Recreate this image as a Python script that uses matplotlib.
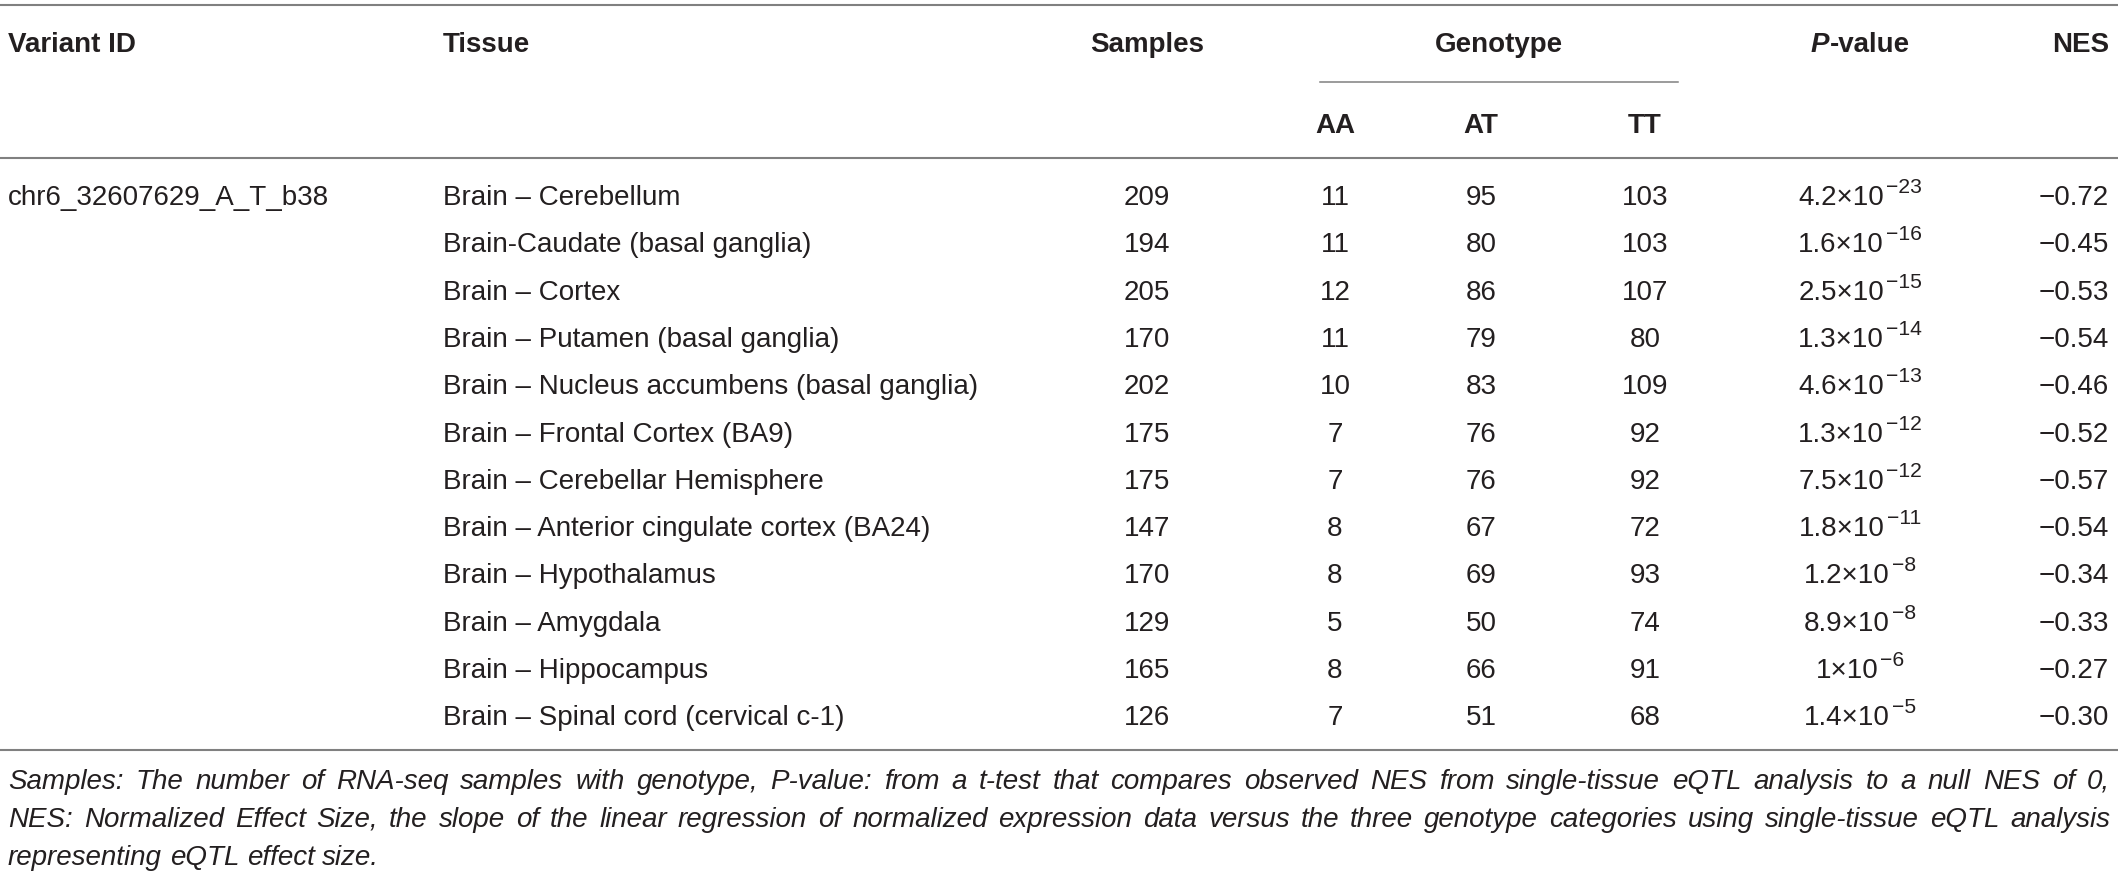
import matplotlib
matplotlib.use("Agg")
import matplotlib.pyplot as plt

# ---------------- data ----------------
variant_id = "chr6_32607629_A_T_b38"
tissues = ["Brain – Cerebellum", "Brain-Caudate (basal ganglia)", "Brain – Cortex",
           "Brain – Putamen (basal ganglia)", "Brain – Nucleus accumbens (basal ganglia)",
           "Brain – Frontal Cortex (BA9)", "Brain – Cerebellar Hemisphere",
           "Brain – Anterior cingulate cortex (BA24)", "Brain – Hypothalamus",
           "Brain – Amygdala", "Brain – Hippocampus", "Brain – Spinal cord (cervical c-1)"]
samples = [209, 194, 205, 170, 202, 175, 175, 147, 170, 129, 165, 126]
geno_aa = [11, 11, 12, 11, 10, 7, 7, 8, 8, 5, 8, 7]
geno_at = [95, 80, 86, 79, 83, 76, 76, 67, 69, 50, 66, 51]
geno_tt = [103, 103, 107, 80, 109, 92, 92, 72, 93, 74, 91, 68]
p_mant = ["4.2", "1.6", "2.5", "1.3", "4.6", "1.3", "7.5", "1.8", "1.2", "8.9", "1", "1.4"]
p_exp = [-23, -16, -15, -14, -13, -12, -12, -11, -8, -8, -6, -5]
nes = [-0.72, -0.45, -0.53, -0.54, -0.46, -0.52, -0.57, -0.54, -0.34, -0.33, -0.27, -0.30]
headers = ["Variant ID", "Tissue", "Samples", "Genotype", "NES"]
geno_labels = ["AA", "AT", "TT"]
footnote = [
    "Samples: The number of RNA-seq samples with genotype, P-value: from a t-test that compares observed NES from single-tissue eQTL analysis to a null NES of 0,",
    "NES: Normalized Effect Size, the slope of the linear regression of normalized expression data versus the three genotype categories using single-tissue eQTL analysis",
    "representing eQTL effect size.",
]

# ---------------- style ----------------
plt.rcParams['font.family'] = ['Liberation Sans', 'DejaVu Sans']

W, H = 2118, 873
FS = 20
TXT = "#231f20"
LINE = "#808080"

fig = plt.figure(figsize=(W / 100, H / 100), dpi=100)
ax = fig.add_axes([0, 0, 1, 1])
ax.set_xlim(0, W)
ax.set_ylim(H, 0)
ax.axis('off')
renderer = fig.canvas.get_renderer()

def width(t):
    return t.get_window_extent(renderer).width

# column positions
x_var, x_tis, x_samp = 8, 443, 1147
x_aa, x_at, x_tt = 1335, 1481, 1645
x_geno = 1499
x_p, x_nes = 1860, 2109

# rules
ax.plot([0, W], [5, 5], color=LINE, lw=1.5)
ax.plot([1320, 1678], [82, 82], color=LINE, lw=1.1)
ax.plot([0, W], [158, 158], color=LINE, lw=1.5)
ax.plot([0, W], [750, 750], color=LINE, lw=1.5)

# headers
hy = 52
bold = dict(fontsize=FS, fontweight='bold', color=TXT, va='baseline')
ax.text(x_var, hy, headers[0], ha='left', **bold)
ax.text(x_tis, hy, headers[1], ha='left', **bold)
ax.text(x_samp, hy, headers[2], ha='center', **bold)
ax.text(x_geno, hy, headers[3], ha='center', **bold)
ax.text(x_nes, hy, headers[4], ha='right', **bold)

# P-value header: italic bold P + bold "-value", centred
tP = ax.text(0, hy, "P", fontsize=FS, fontweight='bold', fontstyle='italic', color=TXT, va='baseline', ha='left')
tV = ax.text(0, hy, "-value", fontsize=FS, fontweight='bold', color=TXT, va='baseline', ha='left')
wP, wV = width(tP), width(tV)
x0 = x_p - (wP + wV + 1) / 2
tP.set_x(x0)
tV.set_x(x0 + wP + 1)

gy = 133
for x, lab in zip([x_aa, x_at, x_tt], geno_labels):
    ax.text(x, gy, lab, ha='center', **bold)

# body rows
reg = dict(fontsize=FS, color=TXT, va='baseline')
y0, dy = 205, 47.3
for i in range(len(tissues)):
    y = y0 + i * dy
    if i == 0:
        ax.text(x_var, y, variant_id, ha='left', **reg)
    ax.text(x_tis, y, tissues[i], ha='left', **reg)
    ax.text(x_samp, y, str(samples[i]), ha='center', **reg)
    ax.text(x_aa, y, str(geno_aa[i]), ha='center', **reg)
    ax.text(x_at, y, str(geno_at[i]), ha='center', **reg)
    ax.text(x_tt, y, str(geno_tt[i]), ha='center', **reg)
    # P-value: mantissa x 10 with raised exponent
    tm = ax.text(0, y, p_mant[i] + "×10", ha='left', **reg)
    te = ax.text(0, y - 12, "\u2212%d" % abs(p_exp[i]), ha='left',
                 fontsize=FS * 0.76, color=TXT, va='baseline')
    wm, we = width(tm), width(te)
    xs = x_p - (wm + we + 2) / 2
    tm.set_x(xs)
    te.set_x(xs + wm + 2)
    ax.text(x_nes, y, ("%.2f" % nes[i]).replace("-", "\u2212"), ha='right', **reg)

# footnote (justified)
def justify(line, y, xl, xr, do_just):
    words = line.split(" ")
    ts = [ax.text(0, y, w, fontsize=FS, fontstyle='italic', color=TXT, va='baseline', ha='left') for w in words]
    widths = [width(t) for t in ts]
    if do_just and len(words) > 1:
        gap = (xr - xl - sum(widths)) / (len(words) - 1)
    else:
        sp = ax.text(0, y, "a a", fontsize=FS, fontstyle='italic')
        sa = ax.text(0, y, "aa", fontsize=FS, fontstyle='italic')
        gap = width(sp) - width(sa)
        sp.remove(); sa.remove()
    x = xl
    for t, w in zip(ts, widths):
        t.set_x(x)
        x += w + gap

fy = [789, 827, 865]
for k, line in enumerate(footnote):
    justify(line, fy[k], 8, 2110, k < len(footnote) - 1)

fig.savefig("out.png", dpi=100)
